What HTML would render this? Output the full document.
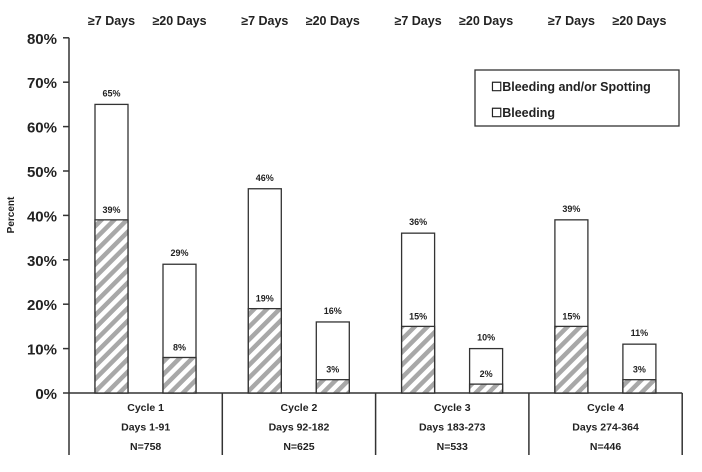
<!DOCTYPE html>
<html><head><meta charset="utf-8"><style>
body{margin:0;background:#fff;}
svg{display:block;font-family:"Liberation Sans",Arial,sans-serif;}
</style></head><body>
<svg id="chart" width="702" height="472" viewBox="0 0 702 472">
<defs>
<pattern id="hatch" patternUnits="userSpaceOnUse" width="9" height="9" patternTransform="rotate(45)">
<rect width="9" height="9" fill="#fff"/>
<rect width="4.5" height="9" fill="#a8a8a8"/>
</pattern>
</defs>
<g id="plot"></g>
</svg>
<script>
const cycles=["Cycle 1","Cycle 2","Cycle 3","Cycle 4"];
const dayRanges=["Days 1-91","Days 92-182","Days 183-273","Days 274-364"];
const nValues=["N=758","N=625","N=533","N=446"];
const barLabels=["≥7 Days","≥20 Days"];
const spotting7=[65,46,36,39];
const spotting20=[29,16,10,11];
const bleeding7=[39,19,15,15];
const bleeding20=[8,3,2,3];
const yTicks=[0,10,20,30,40,50,60,70,80];

const NS="http://www.w3.org/2000/svg";
const g=document.getElementById('plot');
const x0=69,groupW=153.3,y0=393,pxPer=4.44;
const y=v=>y0-v*pxPer;
function el(t,a,txt){const e=document.createElementNS(NS,t);for(const k in a)e.setAttribute(k,a[k]);if(txt!==undefined)e.textContent=txt;g.appendChild(e);return e;}

let ax=el('line',{x1:x0,y1:y(80),x2:x0,y2:y0,stroke:'#333','stroke-width':1.5});


yTicks.forEach(t=>{
  const tk=el('line',{x1:x0-6,y1:y(t),x2:x0,y2:y(t),stroke:'#333','stroke-width':1.5});
  
  
  const lb=el('text',{x:x0-12,y:y(t)+6,'text-anchor':'end','font-size':15,'font-weight':'bold',fill:'#222'},t+'%');
  
  
});
const yt=el('text',{x:14,y:215,'text-anchor':'middle','font-size':10,'font-weight':'bold',fill:'#222',transform:'rotate(-90 14 215)'},'Percent');



const xa=el('line',{x1:x0,y1:y0,x2:x0+4*groupW,y2:y0,stroke:'#333','stroke-width':1.5});


for(let i=0;i<=4;i++){
  const d=el('line',{x1:x0+i*groupW,y1:y0,x2:x0+i*groupW,y2:455,stroke:'#333','stroke-width':1.5});
  
  
}
cycles.forEach((c,i)=>{
  const cx=x0+i*groupW+groupW/2;
  [c,dayRanges[i],nValues[i]].forEach((s,j)=>{
    const t=el('text',{x:cx,y:411+j*19.5,'text-anchor':'middle','font-size':10.5,'font-weight':'bold',fill:'#222'},s);
    
    
  });
  const tot=[spotting7[i],spotting20[i]],bl=[bleeding7[i],bleeding20[i]];
  [0,1].forEach(k=>{
    const bx=x0+i*groupW+26+k*68,bw=33;
    const h=el('text',{x:bx+bw/2,y:25,'text-anchor':'middle','font-size':12.5,'font-weight':'bold',fill:'#222'},barLabels[k]);
    
    
    const r1=el('rect',{x:bx,y:y(tot[k]),width:bw,height:tot[k]*pxPer,fill:'#fff',stroke:'#333','stroke-width':1.3});
    
    
    const r2=el('rect',{x:bx,y:y(bl[k]),width:bw,height:bl[k]*pxPer,fill:'url(#hatch)',stroke:'#333','stroke-width':1.3});
    
    
    const l1=el('text',{x:bx+bw/2,y:y(tot[k])-8,'text-anchor':'middle','font-size':9,'font-weight':'bold',fill:'#222'},tot[k]+'%');
    
    
    const l2=el('text',{x:bx+bw/2,y:y(bl[k])-7,'text-anchor':'middle','font-size':9,'font-weight':'bold',fill:'#222'},bl[k]+'%');
    
    
  });
});

const lg=el('rect',{x:475,y:70,width:204,height:56,fill:'#fff',stroke:'#333','stroke-width':1.3});


const le1=el('text',{x:491,y:91,'font-size':12.5,'font-weight':'bold',fill:'#222'},'☐Bleeding and/or Spotting');


const le2=el('text',{x:491,y:117,'font-size':12.5,'font-weight':'bold',fill:'#222'},'☐Bleeding');


</script>
</body></html>
